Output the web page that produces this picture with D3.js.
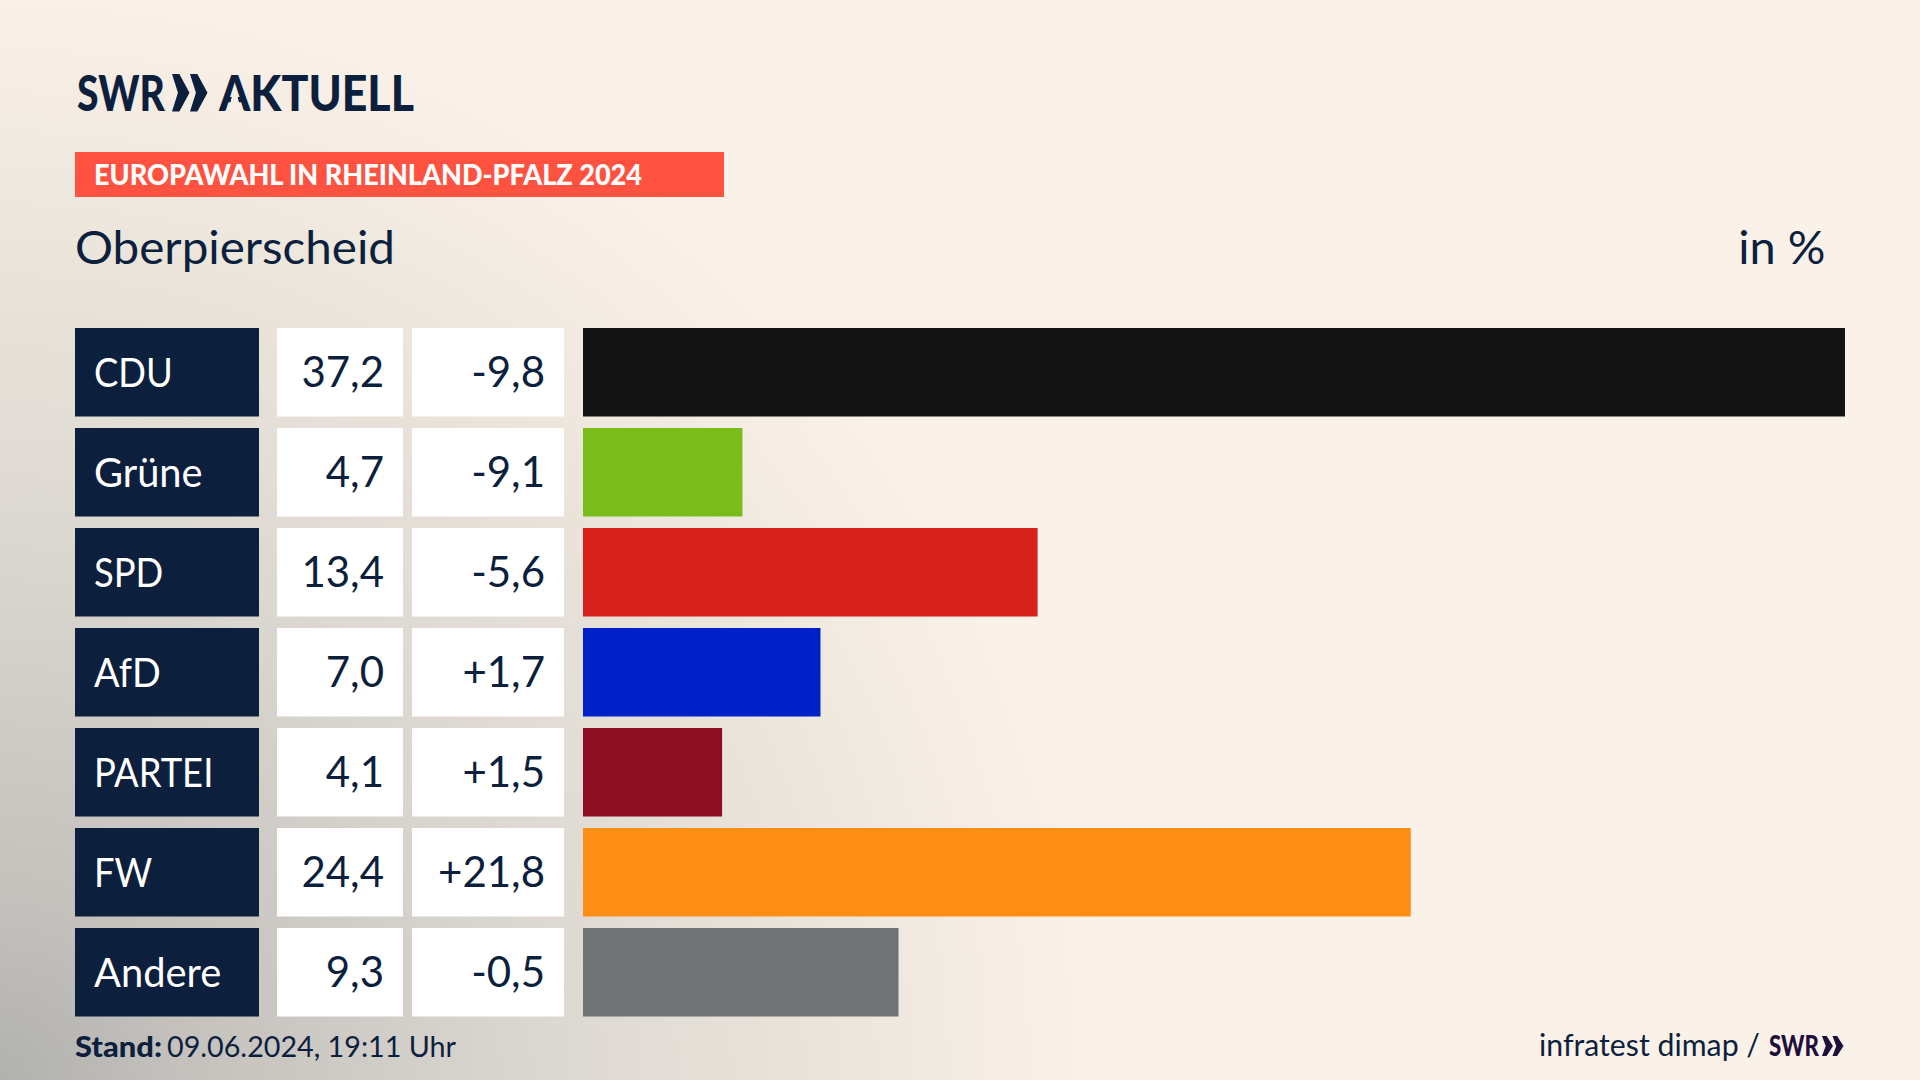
<!DOCTYPE html>
<html lang="de"><head><meta charset="utf-8">
<script src="https://cdn.jsdelivr.net/npm/d3@7"></script>
<style>html,body{margin:0;padding:0;background:#faf2e8;overflow:hidden}svg{display:block}text{font-family:Lato,"Noto Sans",sans-serif}</style>
</head><body>
<script>
const parties=["CDU","Grüne","SPD","AfD","PARTEI","FW","Andere"];
const shares=[37.2,4.7,13.4,7.0,4.1,24.4,9.3];
const changes=[-9.8,-9.1,-5.6,1.7,1.5,21.8,-0.5];
const barColors=["#141414","#7abd1a","#d6201c","#0020c8","#8e0e21","#ff8e17","#717274"];
const navy="#0c1f3d";

const svg=d3.select("body").append("svg").attr("width",1920).attr("height",1080);
const defs=svg.append("defs");
const grad=defs.append("radialGradient").attr("id","bg").attr("gradientUnits","userSpaceOnUse")
  .attr("cx",0).attr("cy",1080).attr("r",1130);
[[0,"#b1b1af"],[.16,"#c4c1bd"],[.33,"#d0cdc8"],[.52,"#dedad3"],[.69,"#e8e2d9"],[.86,"#f4ece2"],[.98,"#faf2e8"],[1,"#faf2e8"]]
  .forEach(([o,c])=>grad.append("stop").attr("offset",o).attr("stop-color",c));
svg.append("rect").attr("width",1920).attr("height",1080).attr("fill","url(#bg)");

const fmt=v=>v.toFixed(1).replace(".",",");
const fmtD=v=>(v>0?"+":"-")+Math.abs(v).toFixed(1).replace(".",",");

const y=d3.scaleBand().domain(parties).range([328,1016.5]).paddingInner(.115);
const x=d3.scaleLinear().domain([0,37.2]).range([583,1845]);
const rows=parties.map((p,i)=>({p,s:shares[i],c:changes[i],col:barColors[i]}));

function fitText(sel,w){sel.attr("textLength",w).attr("lengthAdjust","spacingAndGlyphs");return sel;}
function chevrons(g,x0,top,h,w,gap,fill){
  const line=d3.line();
  for(let k=0;k<2;k++){
    const o=x0+k*gap;
    g.append("path").attr("fill",fill).attr("d",line([[o,top],[o+w*.42,top],[o+w,top+h/2],[o+w*.42,top+h],[o,top+h],[o+w*.34,top+h/2]])+"Z");
  }
}

// header
const logo=svg.append("g");
fitText(logo.append("text").attr("x",77).attr("y",111).attr("font-size",50).attr("font-weight",900).attr("fill",navy).text("SWR"),88);
chevrons(logo,172,74,37.5,17.5,18,navy);
const akt=fitText(logo.append("text").attr("x",219).attr("y",111).attr("font-size",50).attr("font-weight",900).attr("fill",navy).text("AKTUELL"),195);
// the wordmark's A has no crossbar
const ae=akt.node().getExtentOfChar(0), acx=ae.x+ae.width/2;
logo.append("path").attr("fill","#f8f0e6").attr("d",d3.line()([[acx,85],[acx+6.5,111.5],[acx-6.5,111.5]])+"Z");

svg.append("rect").attr("x",75).attr("y",152).attr("width",649).attr("height",45).attr("fill","#ff5240");
fitText(svg.append("text").attr("x",94).attr("y",185).attr("font-size",28).attr("font-weight",900).attr("fill","#fff").text("EUROPAWAHL IN RHEINLAND-PFALZ 2024"),548);

fitText(svg.append("text").attr("x",75).attr("y",264).attr("font-size",46).attr("fill",navy).text("Oberpierscheid"),320);
svg.append("text").attr("x",1825.5).attr("y",264).attr("text-anchor","end").attr("font-size",47).attr("fill",navy).text("in %");

// rows
const row=svg.selectAll("g.row").data(rows).join("g").attr("class","row");
row.append("rect").attr("x",75).attr("y",d=>y(d.p)).attr("width",184).attr("height",y.bandwidth()).attr("fill",navy);
row.append("rect").attr("x",277).attr("y",d=>y(d.p)).attr("width",126).attr("height",y.bandwidth()).attr("fill","#fff");
row.append("rect").attr("x",412).attr("y",d=>y(d.p)).attr("width",152).attr("height",y.bandwidth()).attr("fill","#fff");
row.append("rect").attr("x",x(0)).attr("y",d=>y(d.p)).attr("width",d=>x(d.s)-x(0)).attr("height",y.bandwidth()).attr("fill",d=>d.col);
const base=d=>y(d.p)+y.bandwidth()/2+14.5;
row.append("text").attr("x",94).attr("y",base).attr("font-size",40).attr("fill","#fff").text(d=>d.p)
  .each(function(d){
    const upper=[...d.p].filter(ch=>ch===ch.toUpperCase()).length/d.p.length;
    fitText(d3.select(this),this.getComputedTextLength()*(1.015-.105*upper));
  });
row.append("text").attr("x",384).attr("y",d=>base(d)+.5).attr("text-anchor","end").attr("font-size",42).attr("fill",navy).text(d=>fmt(d.s));
row.append("text").attr("x",545).attr("y",d=>base(d)+.5).attr("text-anchor","end").attr("font-size",42).attr("fill",navy).text(d=>fmtD(d.c));

// footer
fitText(svg.append("text").attr("x",75).attr("y",1057).attr("font-size",29).attr("font-weight",900).attr("fill",navy).text("Stand:"),87);
fitText(svg.append("text").attr("x",167).attr("y",1057).attr("font-size",29).attr("fill",navy).text("09.06.2024, 19:11 Uhr"),289);
fitText(svg.append("text").attr("x",1539).attr("y",1056).attr("font-size",30).attr("fill",navy).text("infratest dimap /"),221);
fitText(svg.append("text").attr("x",1769).attr("y",1056).attr("font-size",29).attr("font-weight",900).attr("fill","#1f0f3c").text("SWR"),50);
chevrons(svg.append("g"),1822,1036,20,11,10.5,"#1f0f3c");
</script>
</body></html>
